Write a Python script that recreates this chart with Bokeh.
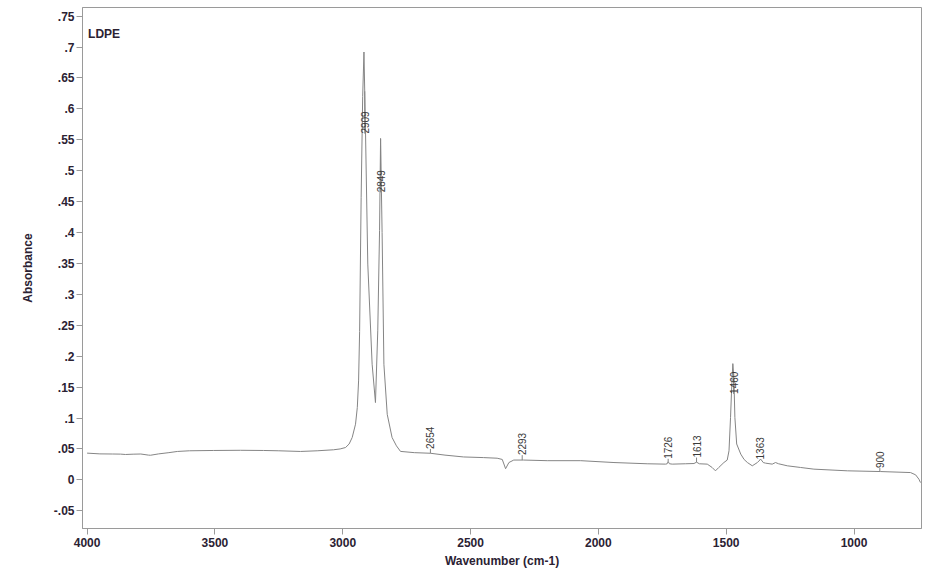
import numpy as np
from bokeh.plotting import figure
from bokeh.models import Range1d, FixedTicker, Label, ColumnDataSource
from bokeh.core.properties import value
from bokeh.embed import file_html
from bokeh.resources import INLINE

# Spectrum
wavenumber = [4000, 3950, 3900, 3869, 3850, 3820, 3790, 3760, 3752, 3720, 3680, 3647,
              3600, 3505, 3400, 3310, 3250, 3165, 3100, 3036, 3010, 2989, 2975, 2963,
              2950, 2943, 2938, 2934, 2928, 2922, 2917, 2911, 2902, 2885, 2872, 2863,
              2856, 2852, 2846, 2839, 2826, 2807, 2790, 2774, 2720, 2657, 2600, 2527,
              2450, 2396, 2376, 2363, 2350, 2331, 2292, 2200, 2069, 1939, 1809, 1737,
              1731, 1727, 1722, 1711, 1660, 1626, 1616, 1605, 1574, 1555, 1542, 1529,
              1509, 1496, 1489, 1483, 1479, 1474, 1470, 1466, 1459, 1443, 1430, 1417,
              1398, 1378, 1365, 1355, 1346, 1320, 1307, 1295, 1261, 1209, 1157, 1026,
              896, 779, 759, 746, 740]
absorbance = [0.0432, 0.0420, 0.0418, 0.0416, 0.0410, 0.0415, 0.0418, 0.0400, 0.0398, 0.0420,
              0.0440, 0.0459, 0.0470, 0.0475, 0.0478, 0.0475, 0.0470, 0.0459, 0.0470, 0.0486,
              0.0500, 0.0523, 0.0580, 0.0685, 0.0900, 0.1170, 0.1600, 0.2400, 0.4570, 0.6200,
              0.6920, 0.5650, 0.3490, 0.1870, 0.1250, 0.2410, 0.4030, 0.5520, 0.4000, 0.1870,
              0.1060, 0.0685, 0.0550, 0.0460, 0.0440, 0.0430, 0.0400, 0.0370, 0.0360, 0.0350,
              0.0330, 0.0180, 0.0280, 0.0320, 0.0320, 0.0310, 0.0310, 0.0280, 0.0260, 0.0254,
              0.0260, 0.0296, 0.0260, 0.0254, 0.0260, 0.0264, 0.0286, 0.0260, 0.0254, 0.0200,
              0.0146, 0.0200, 0.0280, 0.0320, 0.0470, 0.1010, 0.1440, 0.1880, 0.1660, 0.1010,
              0.0580, 0.0416, 0.0330, 0.0280, 0.0227, 0.0280, 0.0335, 0.0280, 0.0270, 0.0254,
              0.0280, 0.0260, 0.0227, 0.0200, 0.0173, 0.0146, 0.0134, 0.0118, 0.0081, 0.0010,
              -0.0044]

# Peak labels
peak_text = ["2909", "2849", "2654", "2293", "1726", "1613", "1460", "1363", "900"]
peak_x = [2914, 2852, 2657, 2298, 1727, 1616, 1471, 1368, 899]
peak_label_y = [0.560, 0.465, 0.050, 0.040, 0.034, 0.036, 0.139, 0.033, 0.019]

x_ticks = [4000, 3500, 3000, 2500, 2000, 1500, 1000]
y_ticks = [-0.05, 0, 0.05, 0.1, 0.15, 0.2, 0.25, 0.3, 0.35, 0.4, 0.45, 0.5, 0.55, 0.6, 0.65, 0.7, 0.75]
y_tick_labels = ["-.05", "0", ".05", ".1", ".15", ".2", ".25", ".3", ".35", ".4", ".45", ".5",
                 ".55", ".6", ".65", ".7", ".75"]

TXT = "#2b2233"
GRAY = "#9a9a9a"
LINE = "#858585"
FONT = "Liberation Sans"

p = figure(width=933, height=574, x_range=Range1d(4018, 736), y_range=Range1d(-0.0787, 0.764),
           output_backend="svg", toolbar_location=None,
           min_border_left=82, min_border_right=12, min_border_top=7, min_border_bottom=46)
p.grid.visible = False
p.outline_line_color = GRAY
p.background_fill_color = "white"
p.border_fill_color = "white"

p.line(wavenumber, absorbance, line_color=LINE, line_width=1)

# peak marker ticks and labels
curve_at = np.interp(peak_x, wavenumber[::-1], absorbance[::-1])
tick_src = ColumnDataSource(dict(x=peak_x, y0=list(curve_at), y1=peak_label_y))
p.segment(x0="x", y0="y0", x1="x", y1="y1", source=tick_src, line_color=LINE, line_width=1)
lab_src = ColumnDataSource(dict(x=peak_x, y=peak_label_y, t=peak_text))
p.text(x="x", y="y", text="t", source=lab_src, angle=np.pi / 2, text_align="left",
       text_baseline="middle", text_font=value(FONT), text_font_size="10px", text_color="#3a3a3a")

p.add_layout(Label(x=3996, y=0.733, text="LDPE", text_font=FONT, text_font_size="12px",
                   text_font_style="bold", text_color=TXT, text_baseline="top"))

p.xaxis.ticker = FixedTicker(ticks=x_ticks)
p.yaxis.ticker = FixedTicker(ticks=y_ticks)
p.yaxis.major_label_overrides = {t: l for t, l in zip(y_ticks, y_tick_labels)}
p.xaxis.axis_label = "Wavenumber (cm-1)"
p.yaxis.axis_label = "Absorbance"
for ax in (p.xaxis, p.yaxis):
    ax.axis_line_color = GRAY
    ax.major_tick_line_color = GRAY
    ax.minor_tick_line_color = None
    ax.major_tick_in = 0
    ax.major_tick_out = 6
    ax.major_label_text_font = FONT
    ax.major_label_text_font_size = "12px"
    ax.major_label_text_font_style = "bold"
    ax.major_label_text_color = TXT
    ax.axis_label_text_font = FONT
    ax.axis_label_text_font_size = "12px"
    ax.axis_label_text_font_style = "bold"
    ax.axis_label_text_color = TXT
p.yaxis.major_label_standoff = 2
p.yaxis.axis_label_standoff = 16
p.xaxis.major_label_standoff = 3
p.xaxis.axis_label_standoff = 4

open("out.html", "w").write(file_html(p, INLINE))
